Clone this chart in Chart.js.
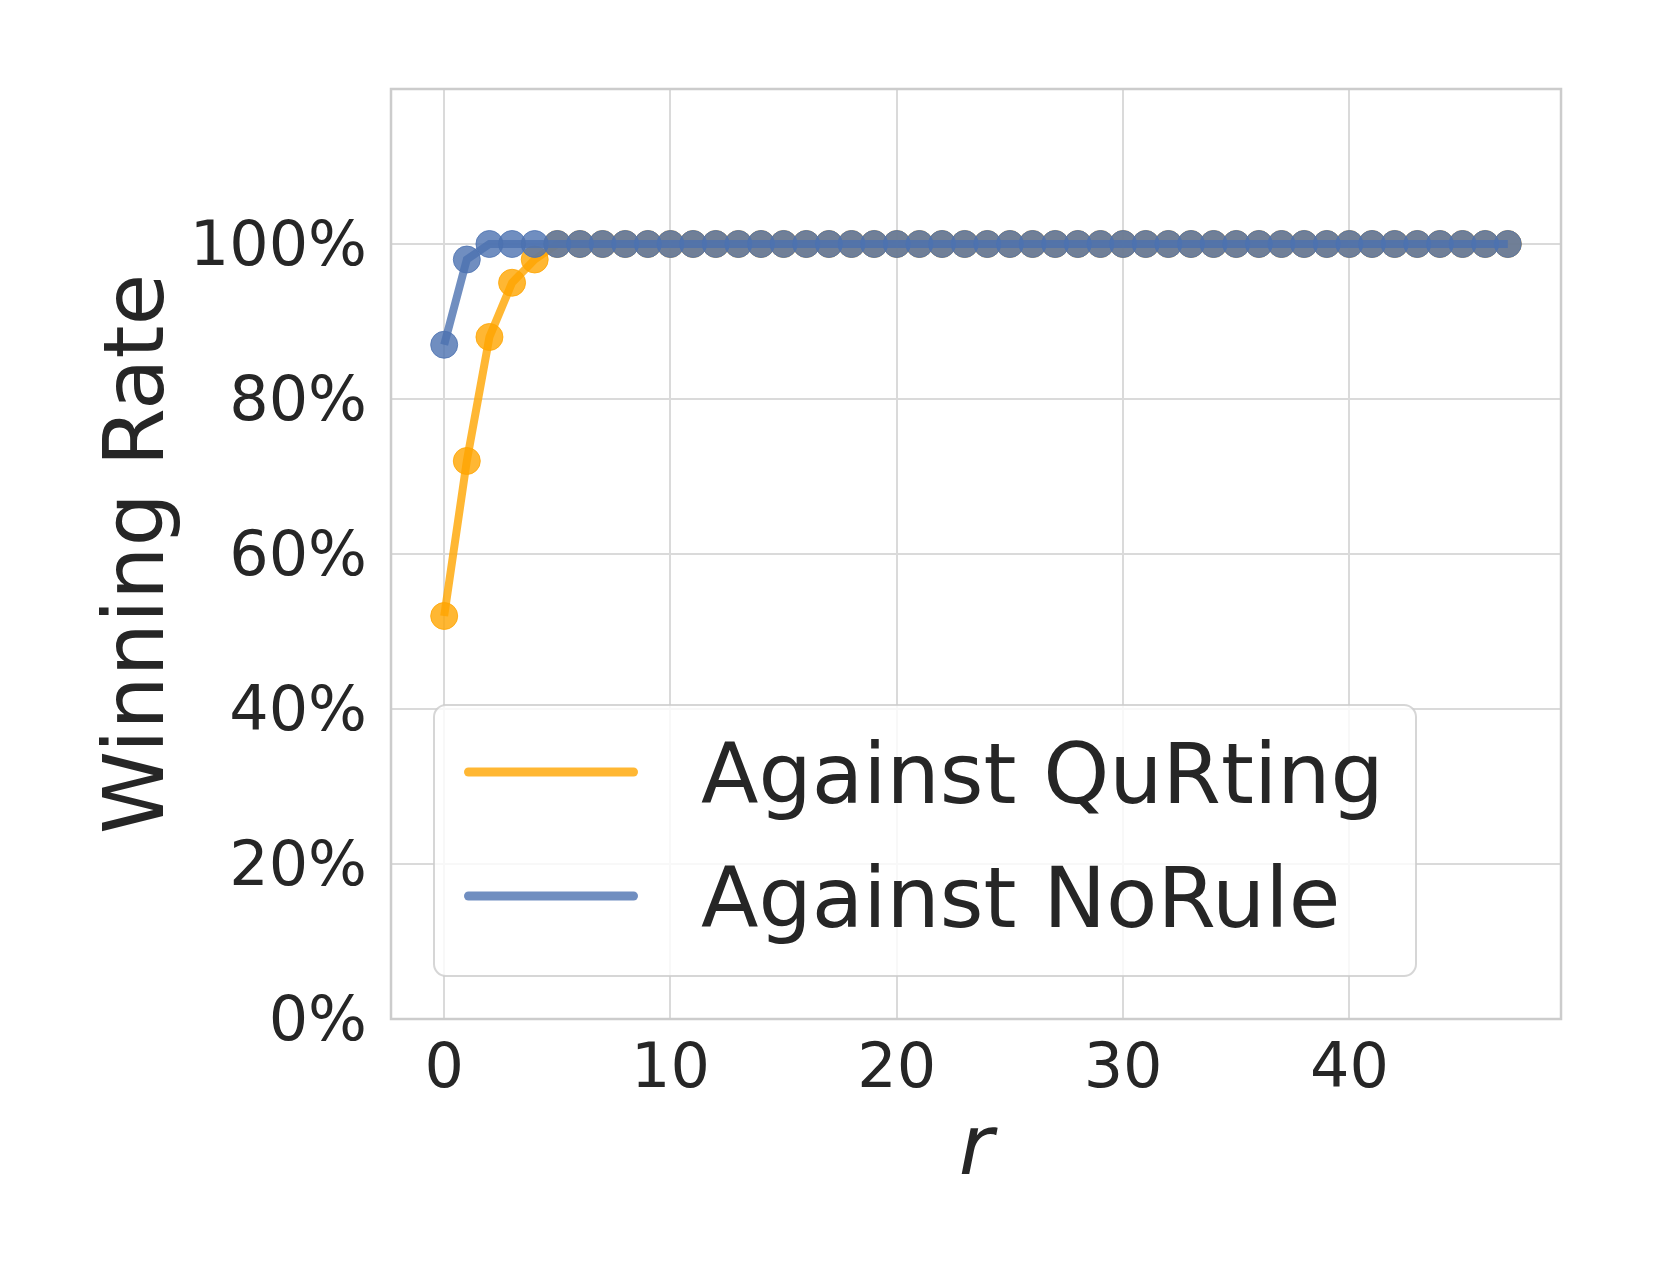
<!DOCTYPE html>
<html>
<head>
<meta charset="utf-8">
<script src="https://cdn.jsdelivr.net/npm/chart.js@4.4.1/dist/chart.umd.min.js"></script>
<style>
  html, body { margin: 0; padding: 0; background: #ffffff; }
  canvas { display: block; }
</style>
</head>
<body>
<canvas id="c" width="1661" height="1283"></canvas>
<script>
// ---- data ----
const rounds = [0,1,2,3,4,5,6,7,8,9,10,11,12,13,14,15,16,17,18,19,20,21,22,23,24,25,26,27,28,29,30,31,32,33,34,35,36,37,38,39,40,41,42,43,44,45,46,47];
const againstQuRting = [52,72,88,95,98,100,100,100,100,100,100,100,100,100,100,100,100,100,100,100,100,100,100,100,100,100,100,100,100,100,100,100,100,100,100,100,100,100,100,100,100,100,100,100,100,100,100,100];
const againstNoRule = [87,98,100,100,100,100,100,100,100,100,100,100,100,100,100,100,100,100,100,100,100,100,100,100,100,100,100,100,100,100,100,100,100,100,100,100,100,100,100,100,100,100,100,100,100,100,100,100];
const seriesLabels = ['Against QuRting', 'Against NoRule'];
const xTicks = [0, 10, 20, 30, 40];
const yTicks = [0, 20, 40, 60, 80, 100];
const xTitle = 'r';
const yTitle = 'Winning Rate';

// ---- styles ----
const FONT = "'DejaVu Sans', 'Liberation Sans', sans-serif";
const TEXT = '#262626';
const ORANGE = 'rgba(255,165,0,0.8)';
const BLUE = 'rgba(76,114,176,0.8)';

function pts(ys) { return rounds.map((r, i) => ({ x: r, y: ys[i] })); }

const framePlugin = {
  id: 'frame',
  beforeDatasetsDraw(chart) {
    const a = chart.chartArea, ctx = chart.ctx;
    ctx.save();
    ctx.strokeStyle = '#cccccc';
    ctx.lineWidth = 2.5;
    ctx.strokeRect(a.left, a.top, a.right - a.left, a.bottom - a.top);
    ctx.restore();
  }
};

const legendPlugin = {
  id: 'boxLegend',
  afterDraw(chart) {
    const ctx = chart.ctx;
    const bx = 434, by = 705, bw = 982, bh = 271;
    ctx.save();
    ctx.beginPath();
    ctx.roundRect(bx, by, bw, bh, 12);
    ctx.fillStyle = 'rgba(255,255,255,0.8)';
    ctx.fill();
    ctx.strokeStyle = 'rgba(204,204,204,0.8)';
    ctx.lineWidth = 2;
    ctx.stroke();
    const order = [0, 1];
    order.forEach((di, i) => {
      const ds = chart.data.datasets[di];
      const y = 772 + i * 124;
      ctx.beginPath();
      ctx.moveTo(468.5, y);
      ctx.lineTo(633.5, y);
      ctx.strokeStyle = ds.borderColor;
      ctx.lineWidth = 9;
      ctx.lineCap = 'round';
      ctx.stroke();
      ctx.fillStyle = TEXT;
      ctx.font = '84px ' + FONT;
      ctx.textAlign = 'left';
      ctx.textBaseline = 'alphabetic';
      ctx.fillText(ds.label, 701, y + 31);
    });
    ctx.restore();
  }
};

new Chart(document.getElementById('c'), {
  type: 'line',
  data: {
    datasets: [
      {
        label: seriesLabels[0],
        data: pts(againstQuRting),
        borderColor: ORANGE,
        backgroundColor: ORANGE,
        pointBackgroundColor: ORANGE,
        pointBorderColor: ORANGE,
        borderWidth: 8,
        pointRadius: 13.5,
        pointBorderWidth: 1,
        tension: 0,
        order: 2
      },
      {
        label: seriesLabels[1],
        data: pts(againstNoRule),
        borderColor: BLUE,
        backgroundColor: BLUE,
        pointBackgroundColor: BLUE,
        pointBorderColor: BLUE,
        borderWidth: 8,
        pointRadius: 13.5,
        pointBorderWidth: 1,
        tension: 0,
        order: 1
      }
    ]
  },
  options: {
    responsive: false,
    animation: false,
    events: [],
    layout: { autoPadding: false, padding: { left: 0, top: 89, right: 100, bottom: 0 } },
    plugins: { legend: { display: false }, tooltip: { enabled: false } },
    scales: {
      x: {
        type: 'linear',
        min: -2.35,
        max: 49.35,
        afterBuildTicks(s) { s.ticks = xTicks.map(v => ({ value: v })); },
        afterFit(s) { s.height = 264; },
        grid: { color: '#dadada', lineWidth: 2, drawTicks: false },
        border: { display: false },
        ticks: {
          padding: 21,
          color: TEXT,
          font: { family: FONT, size: 62, lineHeight: 1 },
          maxRotation: 0,
          callback: v => String(v)
        },
        title: {
          display: true,
          text: xTitle,
          color: TEXT,
          font: { family: FONT, size: 84, style: 'italic', lineHeight: 1 },
          padding: { top: 0, bottom: 89 }
        }
      },
      y: {
        type: 'linear',
        min: 0,
        max: 120,
        afterBuildTicks(s) { s.ticks = yTicks.map(v => ({ value: v })); },
        afterFit(s) { s.width = 391; },
        grid: { color: '#dadada', lineWidth: 2, drawTicks: false },
        border: { display: false },
        ticks: {
          padding: 24,
          labelOffset: 5,
          color: TEXT,
          font: { family: FONT, size: 62, lineHeight: 1 },
          callback: v => v + '%'
        },
        title: {
          display: true,
          text: yTitle,
          color: TEXT,
          font: { family: FONT, size: 84, lineHeight: 1 },
          padding: { top: 99, bottom: 0 }
        }
      }
    }
  },
  plugins: [framePlugin, legendPlugin]
});
</script>
</body>
</html>
